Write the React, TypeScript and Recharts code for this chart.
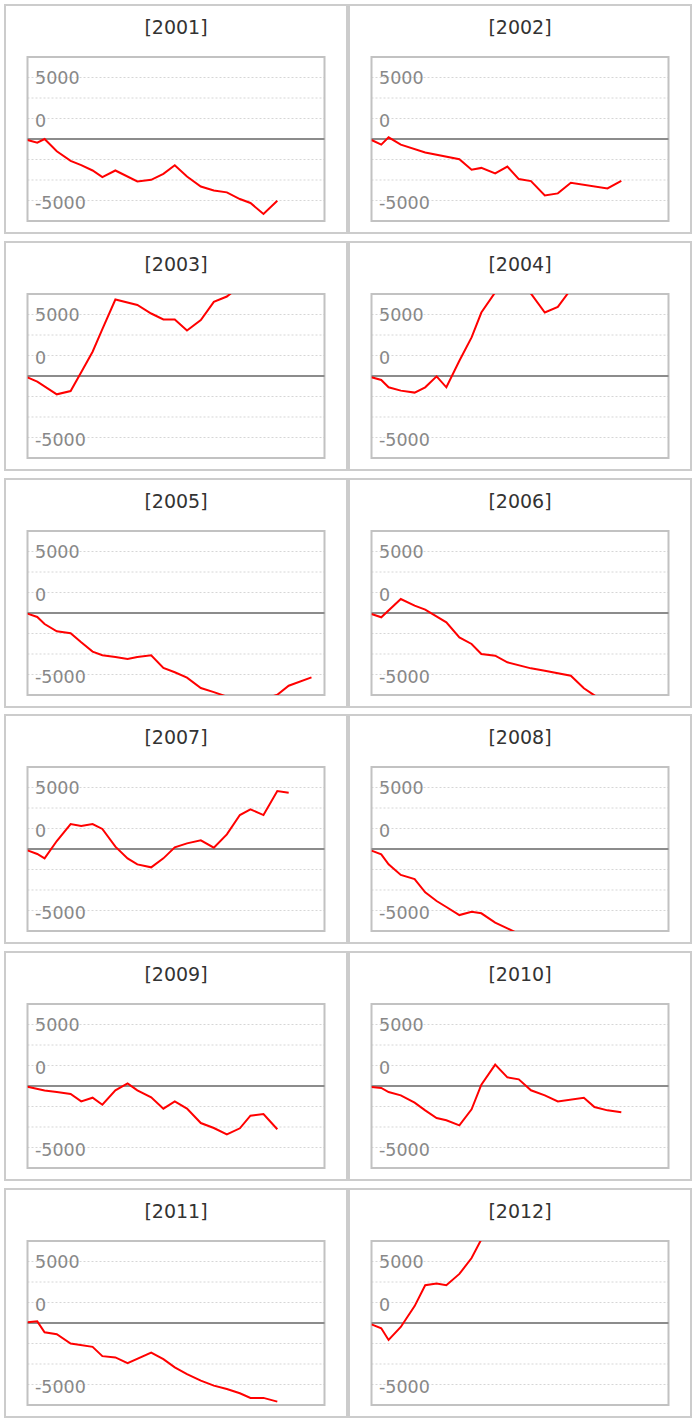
import React from "react";
import {
  LineChart,
  Line,
  XAxis,
  YAxis,
  CartesianGrid,
  ReferenceLine,
  ReferenceArea,
} from "recharts";

// day of year of each sample
const days = [0, 12, 21, 36, 53, 66, 80, 92, 108, 123, 135, 152, 167, 181, 196, 213, 229, 245, 261, 274, 290, 307, 321, 349];

const years = ["2001", "2002", "2003", "2004", "2005", "2006", "2007", "2008", "2009", "2010", "2011", "2012"];

const y2001 = [-80, -300, 0, -1000, -1780, -2130, -2560, -3100, -2560, null, -3450, -3320, -2830, -2130, -3050, -3860, -4180, -4340, -4880, -5200, -6090, -5020, null, null];
const y2002 = [-80, -460, 140, -460, null, -1100, null, null, -1640, -2500, -2350, -2800, -2240, -3260, -3420, -4590, -4420, -3560, null, null, -4020, -3400, null, null];
const y2003 = [-108, -460, null, -1490, -1220, 300, 1970, 3810, 6220, null, 5780, 5080, 4600, 4600, 3700, 4540, 6030, 6460, 7300, 7900, 8100, 8400, null, null];
const y2004 = [-108, -324, -920, -1190, -1350, -920, -27, -920, 1240, 3135, 5160, 6800, 7600, 7400, 6700, 5160, 5620, 7050, 7600, 8000, null, null, null, null];
const y2005 = [-54, -325, -894, -1490, -1650, -2385, -3140, -3440, -3580, -3740, -3580, -3440, -4470, -4820, -5260, -6100, -6430, -6800, -7100, -7200, -7000, -6650, -5910, -5230];
const y2006 = [-80, -350, null, 1140, 600, 270, null, -760, -1980, -2520, -3330, -3470, -4010, null, -4500, -4690, null, -5100, -6125, -6700, -7200, -7500, null, null];
const y2007 = [-110, -405, -760, 650, 2030, 1870, 2030, 1630, 190, -760, -1250, -1490, -760, 135, 460, 700, 110, 1190, 2760, 3225, 2760, 4715, 4580, null];
const y2008 = [-135, -435, -1250, -2110, -2440, -3520, -4230, -4715, -5370, -5100, -5230, -5990, -6450, -6900, -7200, -7500, null, null, null, null, null, null, null, null];
const y2009 = [-54, null, -370, -490, -650, -1250, -950, -1520, -350, 215, -350, -920, -1840, -1250, -1840, -3010, -3415, -3930, -3440, -2410, -2280, -3520, null, null];
const y2010 = [-80, -160, -490, -760, -1355, -1980, -2600, -2790, -3200, -1900, 110, 1735, 705, 540, -350, -760, -1250, null, -950, -1710, -1980, -2140, null, null];
const y2011 = [55, 135, -755, -915, -1670, null, -1940, -2695, -2800, -3260, null, -2400, -2940, -3610, -4150, -4690, -5095, -5365, -5715, -6090, -6090, -6390, null, null];
const y2012 = [-108, -430, -1375, -325, 1375, 3070, 3210, 3070, 3990, 5280, 6800, 7800, 8500, null, null, null, null, null, null, null, null, null, null, null];

const series = [y2001, y2002, y2003, y2004, y2005, y2006, y2007, y2008, y2009, y2010, y2011, y2012];

const yTicks = [5000, 3333, 1667, 0, -1667, -3333, -5000];
const yTickLabels = ["5000", "", "0", "", "", "", "-5000"];
const yMax = 6667;
const xMax = 365;

const PANEL_W = 344;
const PANEL_H = 230;
const ROW_PITCH = 236.8;
const MARGIN = { top: 51, right: 21.5, bottom: 11, left: 21.5 };
const FONT = "'DejaVu Sans', Verdana, sans-serif";

const TickLabel = (props: any) => {
  const idx = yTicks.indexOf(props.payload?.value);
  const label = idx >= 0 ? yTickLabels[idx] : "";
  if (!label) return <g />;
  const shift = props.payload.value === 5000 ? 0 : 3;
  return (
    <text
      x={MARGIN.left + 7.5}
      y={props.y + shift}
      dominantBaseline="central"
      textAnchor="start"
      fill="#888"
      fontSize={17.5}
      fontFamily={FONT}
    >
      {label}
    </text>
  );
};

function YearPanel({ year, values }: { year: string; values: (number | null)[] }) {
  const data = days.map((day, i) => ({ day, value: values[i] }));

  return (
    <div
      style={{
        position: "relative",
        width: PANEL_W - 4,
        height: PANEL_H - 4,
      }}
    >
      <div
        style={{
          position: "absolute",
          top: 11,
          left: 0,
          width: "100%",
          textAlign: "center",
          fontFamily: FONT,
          fontSize: 19,
          lineHeight: "20px",
          color: "#333",
        }}
      >
        [{year}]
      </div>
      <div style={{ position: "absolute", top: 0, left: 0 }}>
        <LineChart width={PANEL_W - 4} height={PANEL_H - 4} data={data} margin={MARGIN}>
          <CartesianGrid vertical={false} stroke="#d6d6d6" strokeDasharray="2 2" />
          <XAxis type="number" dataKey="day" domain={[0, xMax]} hide allowDataOverflow />
          <YAxis
            type="number"
            domain={[-yMax, yMax]}
            ticks={yTicks}
            interval={0}
            allowDataOverflow
            mirror
            width={60}
            axisLine={false}
            tickLine={false}
            tick={<TickLabel />}
          />
          <ReferenceLine y={0} stroke="#8c8c8c" strokeWidth={2} />
          <Line
            type="linear"
            dataKey="value"
            stroke="#ff0000"
            strokeWidth={2}
            dot={false}
            connectNulls
            isAnimationActive={false}
          />
          <ReferenceArea
            x1={0}
            x2={xMax}
            y1={-yMax}
            y2={yMax}
            fill="none"
            fillOpacity={0}
            stroke="#c2c2c2"
            strokeWidth={2}
          />
        </LineChart>
      </div>
    </div>
  );
}

export default function App() {
  return (
    <div style={{ position: "absolute", top: 0, left: 0, width: 695, height: 1422, background: "#fff" }}>
      {years.map((year, k) => (
        <div
          key={year}
          style={{
            position: "absolute",
            left: 4 + (k % 2) * PANEL_W,
            top: 4 + Math.floor(k / 2) * ROW_PITCH,
            width: PANEL_W,
            height: PANEL_H,
            border: "2px solid #cccccc",
            boxSizing: "border-box",
          }}
        >
          <YearPanel year={year} values={series[k]} />
        </div>
      ))}
    </div>
  );
}
